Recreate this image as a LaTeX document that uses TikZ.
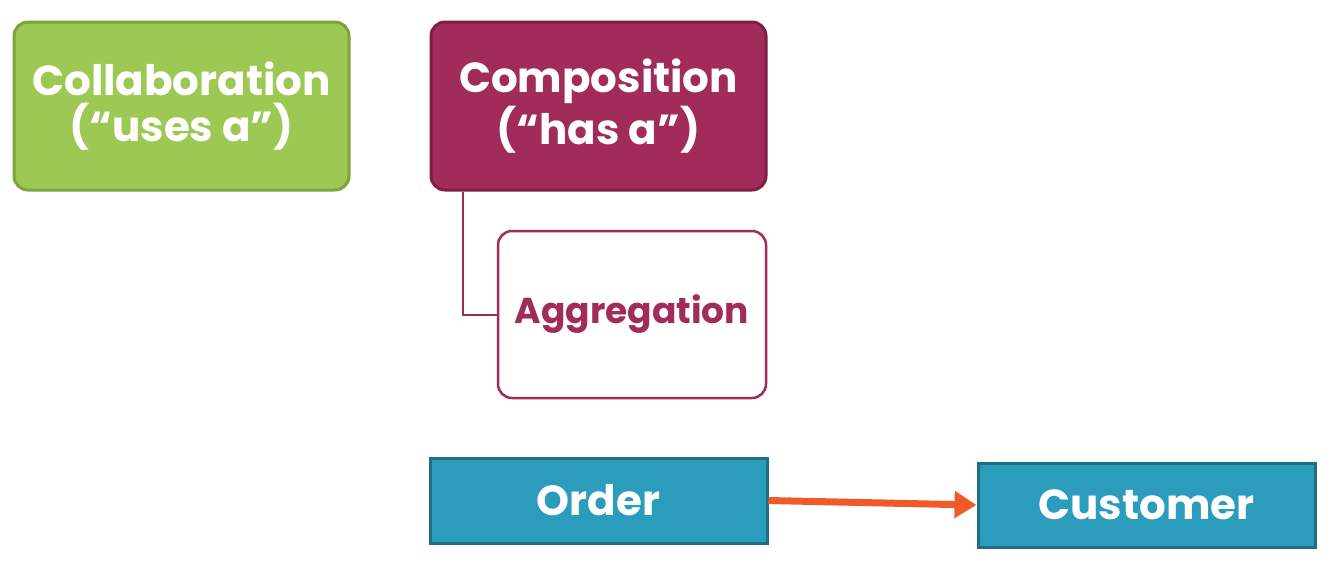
\documentclass[tikz,border=0pt]{standalone}
\usepackage{fontspec}
\setmainfont{Poppins}
\usetikzlibrary{arrows.meta}

\definecolor{usesgreen}{HTML}{9DC853}
\definecolor{usesedge}{HTML}{7DA33C}
\definecolor{hasred}{HTML}{A12B5A}
\definecolor{hasedge}{HTML}{7E1E45}
\definecolor{classblue}{HTML}{2B9CBC}
\definecolor{classedge}{HTML}{1E6F86}
\definecolor{refarrow}{HTML}{F05A28}

\tikzset{
  kindbox/.style={rounded corners=7pt, line width=1.5pt, text=white,
    minimum width=167.5pt, minimum height=84pt, align=center, inner sep=0pt,
    font=\bfseries\fontsize{21}{23}\selectfont},
  classbox/.style={fill=classblue, draw=classedge, line width=1.5pt,
    text=white, minimum width=168.5pt, minimum height=42.5pt, inner sep=0pt,
    font=\bfseries\fontsize{21}{23}\selectfont},
}

\begin{document}
\begin{tikzpicture}[x=0.5pt,y=-0.5pt]
        \useasboundingbox (0,0) rectangle (1332,586);
        % kinds of relationship
        \node[kindbox, fill=usesgreen, draw=usesedge] (collab) at (181.5,106) {Collaboration\\(“uses a”)};
        \node[kindbox, fill=hasred, draw=hasedge] (compos) at (598.5,106) {Composition\\(“has a”)};
        \node[kindbox, fill=white, draw=hasred, text=hasred, line width=1.25pt,
              minimum width=134pt, minimum height=83.5pt,
              font=\bfseries\fontsize{18}{23}\selectfont] (aggreg) at (632,314.5) {Aggregation};
        \draw[hasred, line width=1pt] ([xshift=16.5pt]compos.south west) |- (aggreg.west);
        % example classes
        \node[classbox] (order) at (598.5,500.5) {Order};
        \node[classbox, minimum height=42pt] (customer) at (1146.5,505) {Customer};
        \draw[refarrow, line width=3.5pt, -{Triangle[length=11pt,width=13pt]}] (order.east) -- (customer.west);
\end{tikzpicture}
\end{document}
